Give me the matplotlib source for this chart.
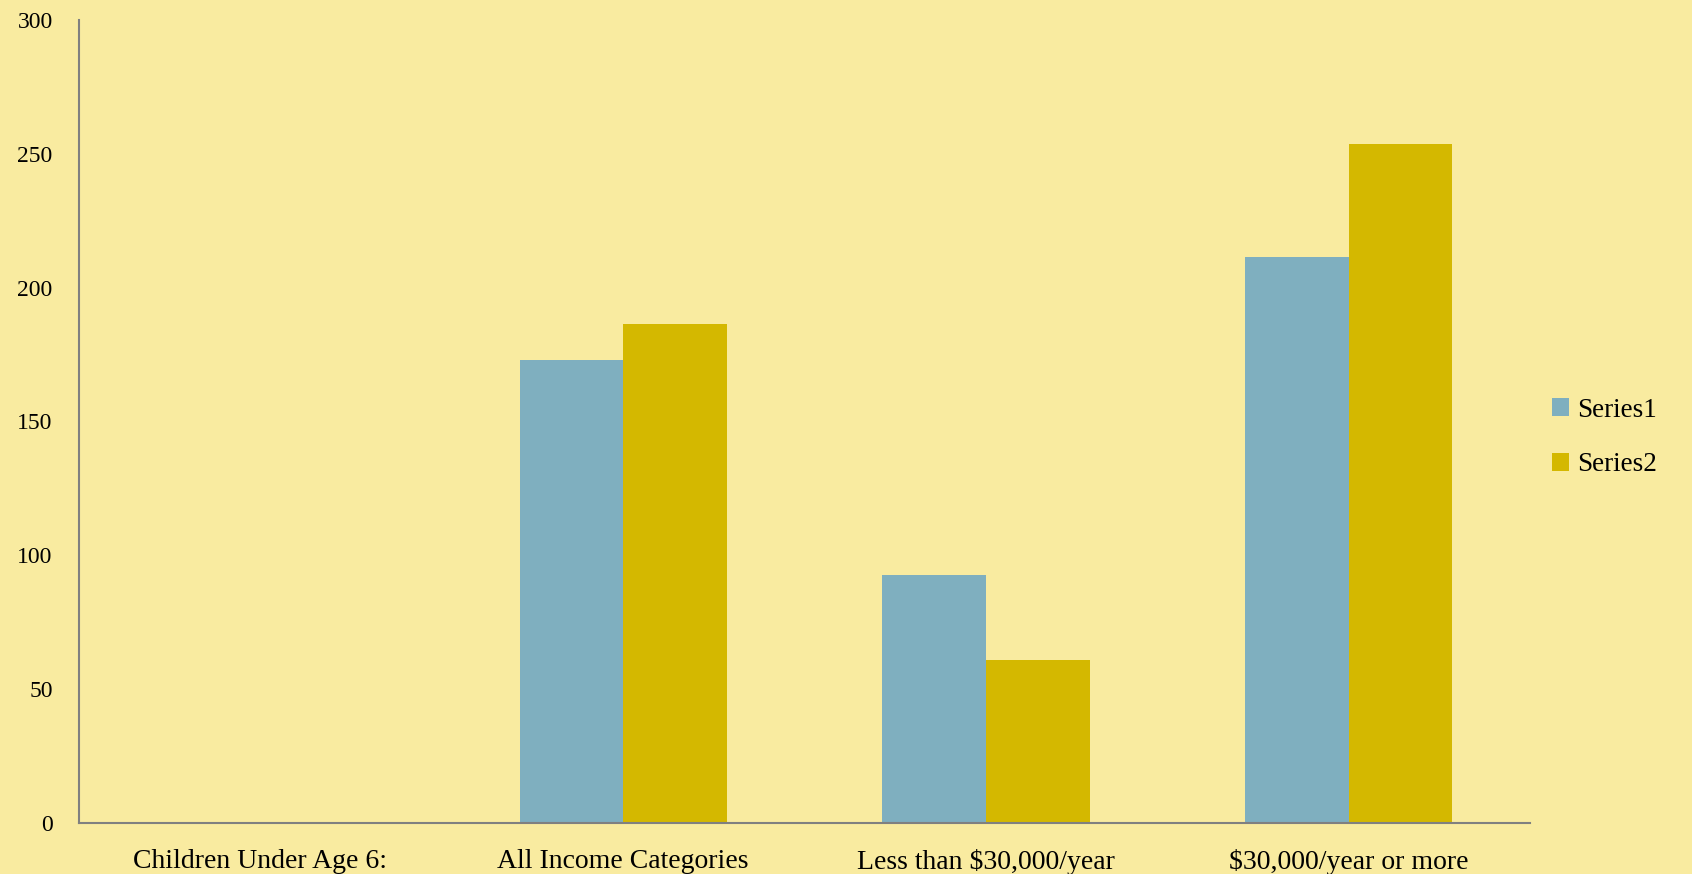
import matplotlib.pyplot as plt
import numpy as np

# data
categories = ["Children Under Age 6:", "All Income Categories",
              "Less than $30,000/year", "$30,000/year or more"]
series1 = [0, 173, 92.5, 211.5]
series2 = [0, 186.5, 61, 253.5]

bg = "#F9EBA0"
c1 = "#7FAFBF"
c2 = "#D4B800"
axis_grey = "#808080"

plt.rcParams['font.family'] = ['Liberation Serif', 'DejaVu Serif']

fig = plt.figure(figsize=(16.92, 8.74), dpi=100, facecolor=bg)
ax = fig.add_axes([0.0467, 0.0584, 0.8576, 0.9187])
ax.set_facecolor(bg)

x = np.arange(len(categories))
w = 1 / 3.5
ax.bar(x - w / 2, series1, width=w, color=c1, label="Series1")
ax.bar(x + w / 2, series2, width=w, color=c2, label="Series2")

ax.set_xlim(-0.5, len(categories) - 0.5)
ax.set_ylim(0, 300)
ax.set_yticks(np.arange(0, 301, 50))
ax.set_xticks(x)
ax.set_xticklabels(categories, fontsize=20)
ax.tick_params(axis='y', length=0, pad=19, labelsize=17)
ax.tick_params(axis='x', length=0, pad=19)

for s in ['top', 'right']:
    ax.spines[s].set_visible(False)
for s in ['left', 'bottom']:
    ax.spines[s].set_color(axis_grey)
    ax.spines[s].set_linewidth(1.5)

leg = ax.legend(loc='center left', bbox_to_anchor=(0.998, 0.48), frameon=False,
                fontsize=19.5, handlelength=0.65, handleheight=0.65,
                handletextpad=0.3, labelspacing=1.1)

fig.savefig("out.png", dpi=100, facecolor=bg)
